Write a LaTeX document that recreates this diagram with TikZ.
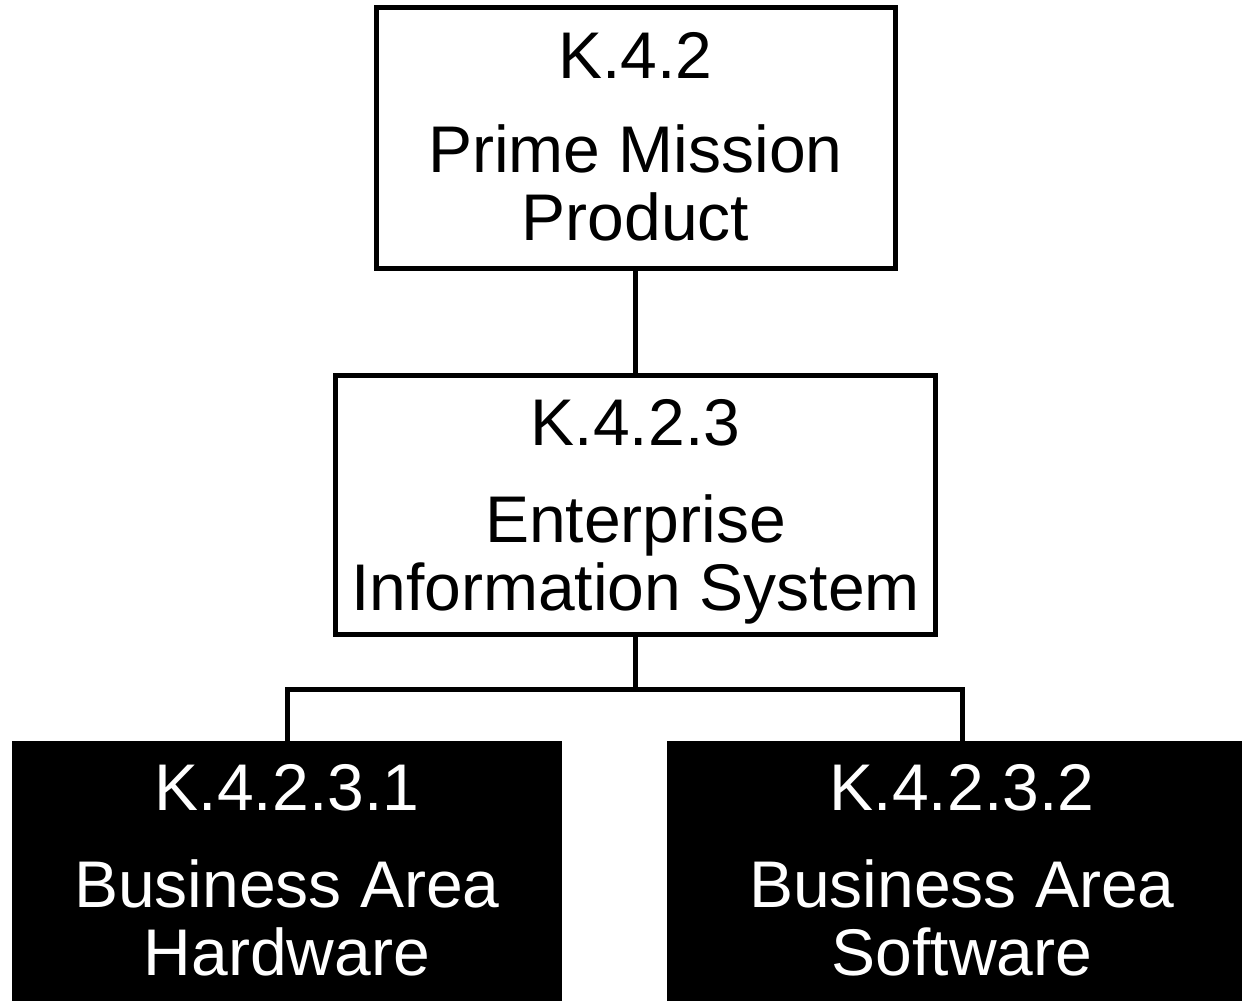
\documentclass[tikz,border=0pt]{standalone}
\usepackage{fontspec}
\setmainfont{Liberation Sans}
\begin{document}
\begin{tikzpicture}[x=1pt,y=-1pt,
  wbs/.style={draw=black, line width=5pt, fill=white, inner sep=0pt, outer sep=0pt},
  dark/.style={fill=black, draw=none, inner sep=0pt, outer sep=0pt},
  lbl/.style={anchor=base, inner sep=0pt, font=\fontsize{66}{68}\selectfont},
  wlbl/.style={lbl, text=white},
  wire/.style={line width=5pt}]
\useasboundingbox (0,0) rectangle (1242,1001);
\clip (0,0) rectangle (1242,1001);

% boxes
\node[wbs, minimum width=519pt, minimum height=260.5pt] (top) at (635.5,137.75) {};
\node[wbs, minimum width=600pt, minimum height=259pt] (mid) at (635.5,505) {};
\node[dark, minimum width=550pt, minimum height=269pt] (hw) at (287,875.5) {};
\node[dark, minimum width=590pt, minimum height=269pt] (sw) at (962,875.5) {};

% labels
\node[lbl] (topid) at (635.5,78) {K.4.2};
\node[lbl] (topa) at (635.5,172) {Prime Mission};
\node[lbl] (topb) at (635.5,240) {Product};

\node[lbl] (midid) at (635.5,445) {K.4.2.3};
\node[lbl] (mida) at (635.5,542) {Enterprise};
\node[lbl] (midb) at (635.5,610) {Information System};

\node[wlbl] (hwid) at (287,810) {K.4.2.3.1};
\node[wlbl] (hwa) at (287,907) {Business Area};
\node[wlbl] (hwb) at (287,975) {Hardware};

\node[wlbl] (swid) at (962,810) {K.4.2.3.2};
\node[wlbl] (swa) at (962,907) {Business Area};
\node[wlbl] (swb) at (962,975) {Software};

% connectors
\coordinate (bus) at (635.5,689);
\draw[wire] (top.south) -- (mid.north);
\draw[wire] (mid.south) -- (mid.south |- bus);
\draw[wire] (hw.north) -- (hw.north |- bus) -- (sw.north |- bus) -- (sw.north);
\end{tikzpicture}
\end{document}
